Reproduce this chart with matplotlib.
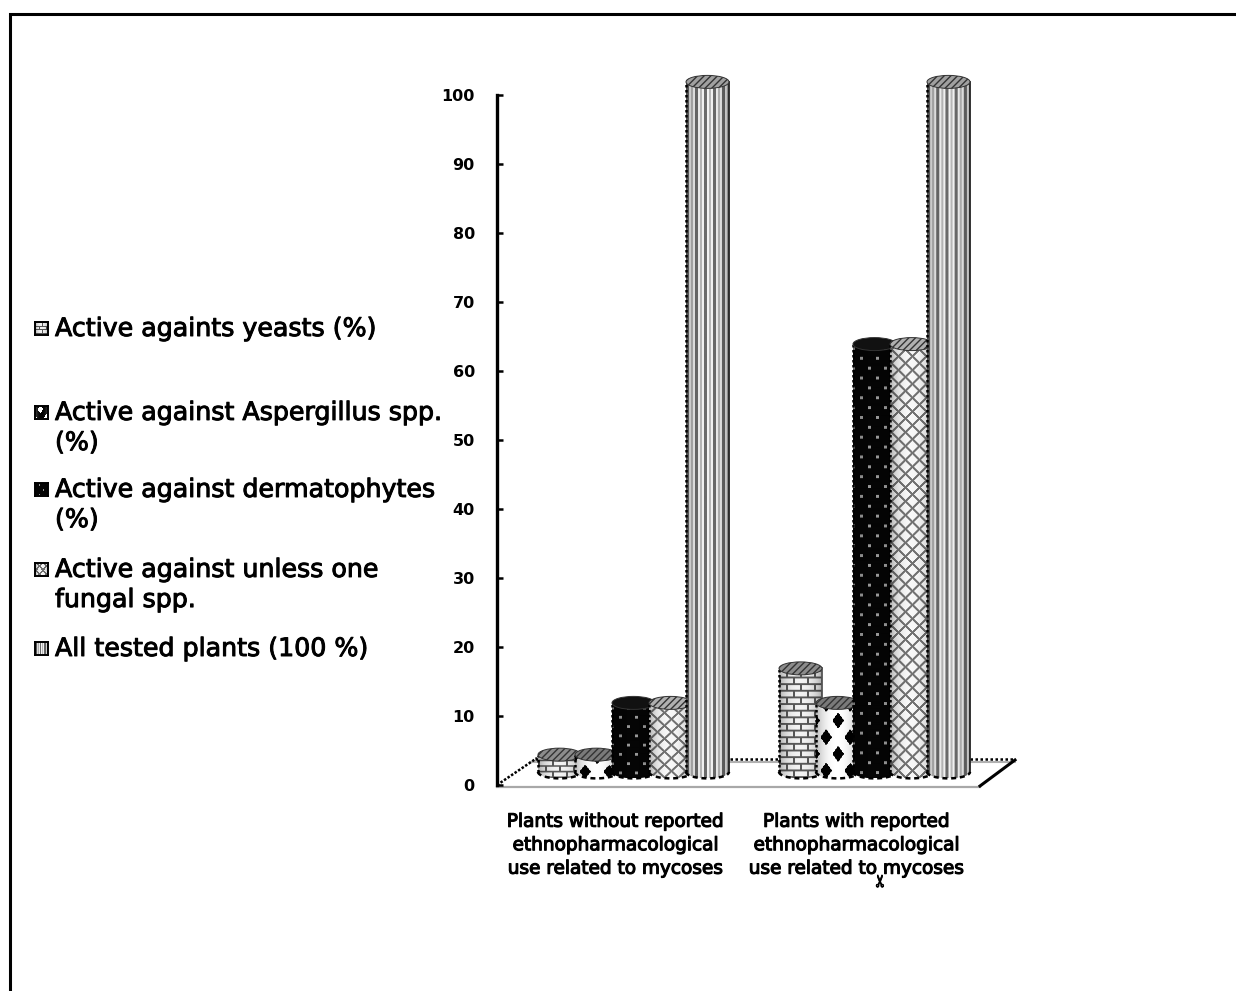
import numpy as np
import matplotlib
matplotlib.use("Agg")
import matplotlib.pyplot as plt
import matplotlib.patheffects as pe
from matplotlib.patches import Ellipse, Rectangle
from matplotlib.path import Path
from matplotlib.transforms import IdentityTransform

W, H = 1236, 991

categories = ["Plants without reported\nethnopharmacological\nuse related to mycoses",
              "Plants with reported\nethnopharmacological\nuse related to mycoses"]
yeasts = [2.5, 15]
aspergillus = [2.5, 10]
dermatophytes = [10, 62]
unless_one = [10, 62]
all_tested = [100, 100]
y_ticks = list(range(0, 101, 10))

series = [yeasts, aspergillus, dermatophytes, unless_one, all_tested]
patterns = ["brick", "diamond", "dots", "cross", "stripes"]
top_colors = ["#8c8c8c", "#7a7a7a", "#111111", "#b0b0b0", "#a0a0a0"]
legend_labels = [("Active againts yeasts (%)", 329),
                 ("Active against Aspergillus spp.\n(%)", 428),
                 ("Active against dermatophytes\n(%)", 505),
                 ("Active against unless one\nfungal spp.", 585),
                 ("All tested plants (100 %)", 649)]

plt.rcParams["font.family"] = "DejaVu Sans"
fig = plt.figure(figsize=(W / 100, H / 100), dpi=100, facecolor="white")

# page frame, cut by the image edge
fig.add_artist(Rectangle((9.5, -50), W + 50, H - 13.5 + 50, fc="none", ec="black", lw=2.2,
                         transform=IdentityTransform()))

ax = fig.add_axes([497 / W, 1 - 785 / H, (1015 - 497) / W, 690 / H])
ax.patch.set_alpha(0)
for s in ["top", "right", "bottom"]:
    ax.spines[s].set_visible(False)
ax.spines["left"].set_linewidth(2.4)
ax.set_yticks(y_ticks)
ax.tick_params(axis="y", direction="in", length=4.5, width=1.8, pad=16)
for t in ax.get_yticklabels():
    t.set_fontsize(11.5)
    t.set_fontweight("bold")
ax.set_xticks([i - 18 / 241 for i in range(2)])
ax.set_xticklabels(categories, fontsize=13.3, linespacing=1.39,
                   path_effects=[pe.withStroke(linewidth=0.8, foreground="black")])
ax.tick_params(axis="x", length=0, pad=20)


def px(x):
    return (x - 633.5) / 241


def py(y):
    return (785 - y) / 6.9


def pattern(name, w, h):
    v, u = np.mgrid[0:h, 0:w].astype(float)
    if name == "brick":
        row = np.floor(v / 7.0)
        img = np.ones_like(u) * 0.95
        off = (row % 2) * 7
        img[(v % 7) < 2] = 0.35
        img[((u + off) % 14) < 2] = 0.35
    elif name == "diamond":
        a = ((u - 4) / 24 + (v - 7.5) / 36) % 1
        b = ((u - 4) / 24 - (v - 7.5) / 36) % 1
        img = np.where((a < 0.48) & (b < 0.48), 0.0, 1.0)
    elif name == "dots":
        img = np.zeros_like(u) + 0.02
        xx = (u + (np.floor(v / 10) % 2) * 8) % 16
        yy = v % 10
        img[(np.abs(xx - 8) < 1.5) & (np.abs(yy - 5) < 1.5)] = 0.6
    elif name == "cross":
        a = ((u + v) / 14) % 1
        b = ((u - v) / 14) % 1
        img = np.where((a < 0.18) | (b < 0.18), 0.45, 0.97)
    else:
        p = u % 9
        img = np.where(p < 3, 0.42, np.where(p < 5, 0.95, np.where(p < 7, 0.72, 0.95)))
    xs = (u + 0.5) / w
    shade = 0.62 + 0.38 * np.sin(np.pi * xs) ** 0.5
    return img * shade


bar_w = 43 / 241
base = 1.9
ell_h = 13 / 6.9
z = 3
for j, (vals, pat, topc) in enumerate(zip(series, patterns, top_colors)):
    xs = [i + (j - 2) * 37 / 241 for i in range(2)]
    bars = ax.bar(xs, vals, width=bar_w, bottom=base, color="white", edgecolor="none", zorder=z,
                  clip_on=False)
    for bar, val in zip(bars, vals):
        x0, x1 = bar.get_x(), bar.get_x() + bar.get_width()
        xc = (x0 + x1) / 2
        top = base + val
        h_px = max(int(round((val + ell_h) * 6.9)), 1)
        img = pattern(pat, 43, h_px)
        t = np.linspace(np.pi, 2 * np.pi, 40)
        arc_x = xc + bar_w / 2 * np.cos(t)
        arc_y = base + ell_h / 2 * np.sin(t)
        im = ax.imshow(img, cmap="gray", vmin=0, vmax=1, origin="lower", aspect="auto",
                       extent=(x0, x1, base - ell_h / 2, top), interpolation="bilinear", zorder=z + 0.1)
        outline = np.vstack([[x0, top], np.column_stack([arc_x, arc_y]), [x1, top], [x0, top]])
        im.set_clip_box(fig.bbox)
        im.set_clip_path(Path(outline), ax.transData)
        # jagged dark outline
        ax.plot([x0, x0], [base, top], color="black", lw=1.8, ls=(0, (1, 1)), zorder=z + 0.2,
                clip_on=False)
        ax.plot([x1, x1], [base, top], color="#222222" if pat == "stripes" else "#555555", lw=1.3,
                zorder=z + 0.2, clip_on=False)
        ax.plot(arc_x, arc_y, color="black", lw=1.8, ls=(0, (2, 1.5)), zorder=z + 0.2, clip_on=False)
        ax.add_patch(Ellipse((xc, top), bar_w, ell_h, fc=topc, ec="#333333", lw=0.7,
                             hatch="/////" if pat != "dots" else None, zorder=z + 0.3, clip_on=False))
    z += 1
ax.set_xlim((497 - 633.5) / 241, (1015 - 633.5) / 241)
ax.set_ylim(0, 100)

# floor of the 3-D plot
ax.plot([px(497), px(980)], [py(786.5), py(786.5)], color="#a8a8a8", lw=1.6, clip_on=False, zorder=1)
ax.plot([px(530), px(1015)], [py(761.5), py(761.5)], color="#b0b0b0", lw=1.5, clip_on=False, zorder=1)
ax.plot([px(535), px(1015)], [py(759), py(759)], color="black", lw=1.8, ls=(0, (1, 1)), clip_on=False, zorder=1)
ax.plot([px(497), px(537)], [py(785), py(758)], color="black", lw=1.8, ls=(0, (1, 0.7)), clip_on=False, zorder=1)
ax.plot([px(980), px(1015)], [py(786), py(760)], color="black", lw=2.2, clip_on=False, zorder=1)

# legend, entries placed as in the source
for (label, yc), pat in zip(legend_labels, patterns):
    first_line = yc if "\n" not in label else yc - 15.5
    fig.text(55 / W, 1 - yc / H, label, fontsize=18.2, va="center", ha="left", linespacing=1.32,
             color="black", path_effects=[pe.withStroke(linewidth=0.7, foreground="black")])
    sx, sy = 35, first_line - 7
    sax = fig.add_axes([sx / W, 1 - (sy + 13) / H, 13 / W, 13 / H])
    swatch = pattern(pat, 26, 26)[::2, ::2]
    if pat == "diamond":
        swatch = 1 - swatch
    sax.imshow(swatch, cmap="gray", vmin=0, vmax=1, aspect="auto", interpolation="nearest")
    sax.set_xticks([])
    sax.set_yticks([])
    for s in sax.spines.values():
        s.set_linewidth(1.4)

# stray glyph in the source image
fig.text(881 / W, 1 - 881 / H, "\u2702", fontsize=12, ha="center", va="center", rotation=90, color="black",
         path_effects=[pe.withStroke(linewidth=0.6, foreground="black")])

fig.savefig("out.png", dpi=100)
